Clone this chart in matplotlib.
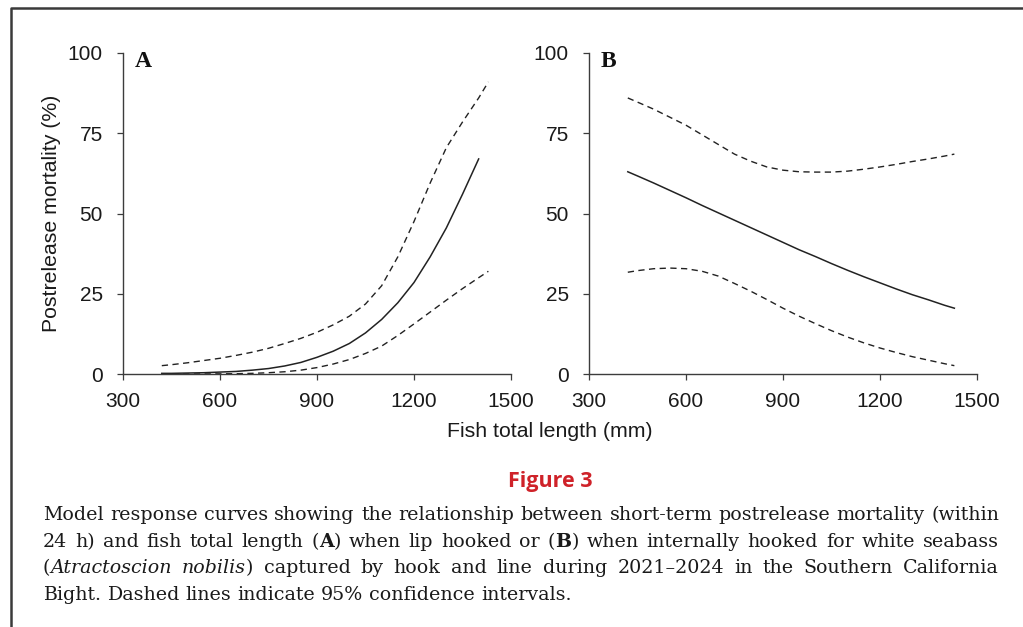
import re
import matplotlib
matplotlib.use("Agg")
import matplotlib.pyplot as plt
from matplotlib.lines import Line2D

# panel A: lip hooked
fit_a_len = [420, 450, 500, 550, 600, 650, 700, 750, 800, 850, 900, 950, 1000,
             1050, 1100, 1150, 1200, 1250, 1300, 1350, 1400]
fit_a = [0.2, 0.2, 0.3, 0.4, 0.6, 0.8, 1.2, 1.7, 2.5, 3.6, 5.2, 7.1, 9.5,
         12.8, 17.0, 22.2, 28.5, 36.5, 45.5, 56.0, 67.0]
ci_a_len = [420, 450, 500, 550, 600, 650, 700, 750, 800, 850, 900, 950, 1000,
            1050, 1100, 1150, 1200, 1250, 1300, 1350, 1400, 1430]
upper_a = [2.6, 2.9, 3.5, 4.2, 4.9, 5.8, 6.8, 8.0, 9.5, 11.1, 13.0, 15.3, 18.0,
           21.8, 27.5, 36.5, 47.5, 59.5, 70.5, 78.5, 86.0, 91.0]
lower_a = [0.0, 0.0, 0.0, 0.02, 0.05, 0.1, 0.2, 0.4, 0.7, 1.2, 2.0, 3.1, 4.5,
           6.4, 8.7, 12.0, 15.6, 19.3, 23.0, 26.6, 30.0, 32.0]

# panel B: internally hooked
len_b = [420, 450, 500, 550, 600, 650, 700, 750, 800, 850, 900, 950, 1000,
         1050, 1100, 1150, 1200, 1250, 1300, 1350, 1400, 1430]
fit_b = [63.0, 61.7, 59.5, 57.2, 54.9, 52.5, 50.2, 47.9, 45.6, 43.3, 41.0, 38.7, 36.6,
         34.4, 32.3, 30.3, 28.4, 26.5, 24.7, 23.1, 21.4, 20.5]
upper_b = [86.0, 84.7, 82.5, 80.0, 77.5, 74.5, 71.5, 68.5, 66.3, 64.5, 63.5, 63.0, 62.9,
           62.9, 63.2, 63.8, 64.5, 65.3, 66.2, 67.0, 67.9, 68.5]
lower_b = [31.7, 32.2, 32.8, 33.0, 32.8, 32.0, 30.5, 28.2, 25.8, 23.2, 20.5, 18.0, 15.7,
           13.5, 11.5, 9.7, 8.1, 6.7, 5.4, 4.3, 3.2, 2.6]

x_ticks = [300, 600, 900, 1200, 1500]
y_ticks = [0, 25, 50, 75, 100]

caption = [
    "Model response curves showing the relationship between short-term postrelease mortality (within",
    "24 h) and fish total length (**A**) when lip hooked or (**B**) when internally hooked for white seabass",
    "(_Atractoscion_ _nobilis_) captured by hook and line during 2021\u20132024 in the Southern California",
    "Bight. Dashed lines indicate 95% confidence intervals.",
]

W, H = 1023, 627
fig = plt.figure(figsize=(W / 100, H / 100), dpi=100)
sans = ["Liberation Sans", "DejaVu Sans"]
serif = ["DejaVu Serif"]
ink = "#222222"
axc = "#3c3c3c"


def px_axes(left, right, top, bottom):
    return fig.add_axes([left / W, 1 - bottom / H, (right - left) / W, (bottom - top) / H])


def style_axes(ax, label):
    ax.set_xlim(300, 1500)
    ax.set_ylim(0, 100)
    ax.set_xticks(x_ticks)
    ax.set_yticks(y_ticks)
    for s in ["top", "right"]:
        ax.spines[s].set_visible(False)
    for s in ["left", "bottom"]:
        ax.spines[s].set_color(axc)
        ax.spines[s].set_linewidth(1.0)
    ax.tick_params(axis="both", length=4.5, width=0.9, color=axc,
                   labelsize=15, labelcolor="#1a1a1a")
    ax.tick_params(axis="x", pad=8.5)
    ax.tick_params(axis="y", pad=10)
    for t in ax.get_xticklabels() + ax.get_yticklabels():
        t.set_family(sans)
    ax.text(0.031, 1.005, label, transform=ax.transAxes, ha="left", va="top",
            fontsize=17, fontweight="bold", family=["Liberation Serif", "DejaVu Serif"],
            color="#111111")


dash = (0, (4.5, 3.2))
ax_a = px_axes(123, 511, 53, 374)
ax_a.plot(fit_a_len, fit_a, color=ink, lw=1.1)
ax_a.plot(ci_a_len, upper_a, color=ink, lw=1.0, linestyle=dash)
ax_a.plot(ci_a_len, lower_a, color=ink, lw=1.0, linestyle=dash)
style_axes(ax_a, "A")

ax_b = px_axes(589, 977, 53, 374)
ax_b.plot(len_b, fit_b, color=ink, lw=1.1)
ax_b.plot(len_b, upper_b, color=ink, lw=1.0, linestyle=dash)
ax_b.plot(len_b, lower_b, color=ink, lw=1.0, linestyle=dash)
style_axes(ax_b, "B")

fig.text(52 / W, 1 - 213.5 / H, "Postrelease mortality (%)", rotation=90,
         ha="center", va="center", fontsize=15.3, family=sans, color="#1a1a1a")
fig.text(550 / W, 1 - 437 / H, "Fish total length (mm)", ha="center",
         va="baseline", fontsize=15.3, family=sans, color="#1a1a1a")
fig.text(550 / W, 1 - 487 / H, "Figure 3", ha="center", va="baseline",
         fontsize=15.5, fontweight="bold", family=["Open Sans", "DejaVu Sans"],
         color="#cf2229")

# frame around the figure (top and left edges)
fig.add_artist(Line2D([10.5 / W, 10.5 / W, 1], [0, 1 - 8 / H, 1 - 8 / H],
                      transform=fig.transFigure, color="#3a3a3a", lw=1.8))

# justified caption
fig.canvas.draw()
renderer = fig.canvas.get_renderer()


def pieces(word):
    out = []
    for p in re.split(r"(\*\*[^*]+\*\*|_[^_]+_)", word):
        if not p:
            continue
        if p.startswith("**"):
            out.append((p[2:-2], "bold", "normal"))
        elif p.startswith("_"):
            out.append((p[1:-1], "normal", "italic"))
        else:
            out.append((p, "normal", "normal"))
    return out


def measure(text, weight, style, size):
    t = fig.text(0, 0, text, fontsize=size, family=serif, fontweight=weight, fontstyle=style)
    w = t.get_window_extent(renderer).width
    t.remove()
    return w


x_left, x_right = 43, 999
base0, step = 520, 26.7

# size the caption font so the widest line fits with ordinary word spacing
ref = 10.0
sp_ref = measure("a a", "normal", "normal", ref) - measure("aa", "normal", "normal", ref)
natural = []
for line in caption[:-1]:
    words = [pieces(w) for w in line.split(" ")]
    natural.append(sum(measure(*p, ref) for w in words for p in w) + sp_ref * (len(words) - 1))
cap_size = ref * (x_right - x_left) / max(natural) * 0.995

space_w = measure("a a", "normal", "normal", cap_size) - measure("aa", "normal", "normal", cap_size)
for i, line in enumerate(caption):
    words = [pieces(w) for w in line.split(" ")]
    widths = [[measure(*p, cap_size) for p in w] for w in words]
    total = sum(sum(w) for w in widths)
    last = i == len(caption) - 1
    gap = space_w if last else (x_right - x_left - total) / (len(words) - 1)
    x = x_left
    y = 1 - (base0 + i * step) / H
    for w, ws in zip(words, widths):
        for (txt, weight, style), pw in zip(w, ws):
            fig.text(x / W, y, txt, ha="left", va="baseline", fontsize=cap_size,
                     family=serif, fontweight=weight, fontstyle=style, color="#1a1a1a")
            x += pw
        x += gap

fig.savefig("out.png", dpi=100)
